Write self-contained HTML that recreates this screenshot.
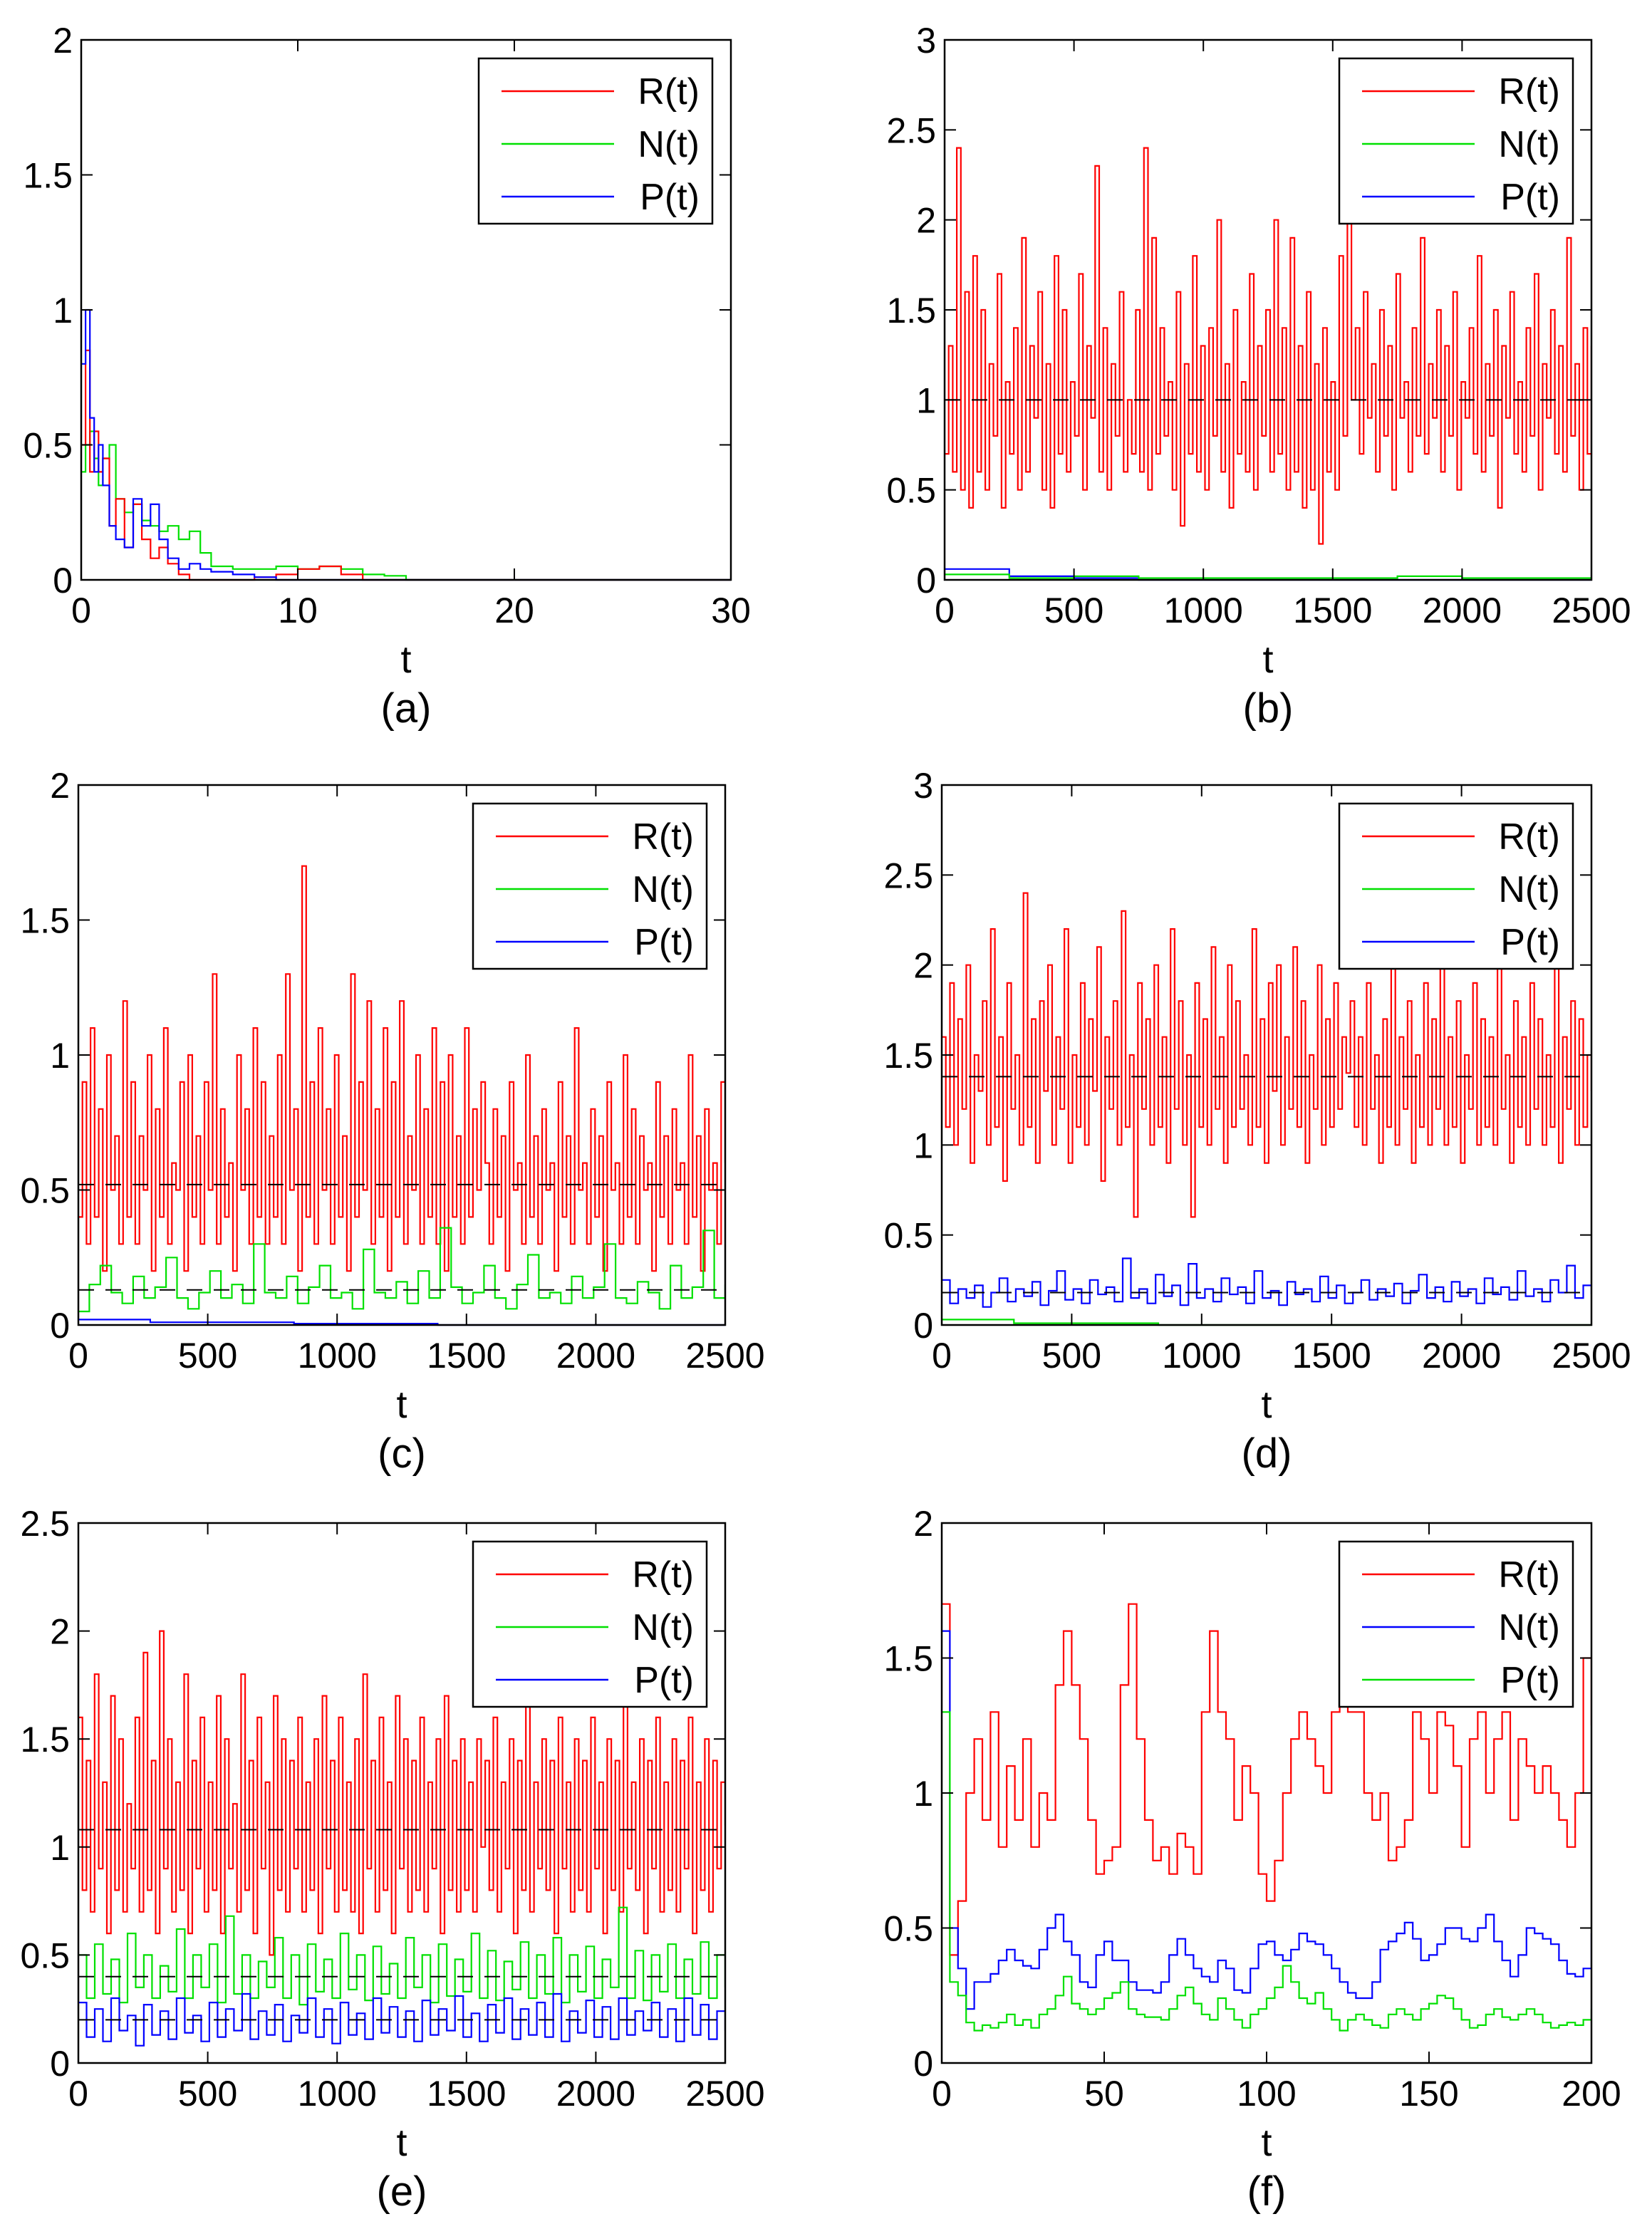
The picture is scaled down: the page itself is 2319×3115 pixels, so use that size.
<!DOCTYPE html>
<html><head><meta charset="utf-8"><style>
html,body{margin:0;padding:0;background:#fff;}
svg{display:block;font-family:"Liberation Sans",Arial,sans-serif;}
</style></head><body>
<svg id="fig" width="2319" height="3115" viewBox="0 0 2319 3115" xmlns="http://www.w3.org/2000/svg"></svg>
<script>
// ---------- data ----------
const aT = [0,0.2,0.4,0.6,0.8,1,1.3,1.6,2,2.4,2.8,3.2,3.6,4,4.5,5,5.5,6,7,8,9,10,11,12,13,14,15,30];
const aR = [0.5,0.85,0.4,0.55,0.4,0.45,0.2,0.3,0.12,0.28,0.15,0.08,0.12,0.06,0.02,0,0,0,0,0.01,0.02,0.04,0.05,0.02,0,0,0,0];
const aN = [0.4,0.5,0.55,0.45,0.35,0.45,0.5,0.3,0.25,0.28,0.22,0.2,0.18,0.2,0.15,0.18,0.1,0.05,0.04,0.04,0.05,0.04,0.05,0.04,0.02,0.015,0,0];
const aP = [0.8,1.0,0.6,0.4,0.5,0.35,0.2,0.15,0.12,0.3,0.2,0.28,0.15,0.08,0.04,0.06,0.04,0.03,0.02,0.01,0,0,0,0,0,0,0,0];

const bR = [0.7,1.3,0.6,2.4,0.5,1.6,0.4,1.8,0.6,1.5,0.5,1.2,0.8,1.7,0.4,1.1,0.7,1.4,0.5,1.9,0.6,1.3,0.9,1.6,0.5,1.2,0.4,1.8,0.7,1.5,0.6,1.1,0.8,1.7,0.5,1.3,0.9,2.3,0.6,1.4,0.5,1.2,0.8,1.6,0.6,1.0,0.7,1.5,0.6,2.4,0.5,1.9,0.7,1.4,0.8,1.1,0.5,1.6,0.3,1.2,0.7,1.8,0.6,1.3,0.5,1.4,0.8,2.0,0.6,1.2,0.4,1.5,0.7,1.1,0.6,1.7,0.5,1.3,0.8,1.5,0.6,2.0,0.7,1.4,0.5,1.9,0.6,1.3,0.4,1.6,0.5,1.2,0.2,1.4,0.6,1.1,0.5,1.8,0.8,2.2,
  1.0,1.4,0.7,1.6,0.9,1.2,0.6,1.5,0.8,1.3,0.5,1.7,0.9,1.1,0.6,1.4,0.8,1.9,0.7,1.2,0.9,1.5,0.6,1.3,0.8,1.6,0.5,1.1,0.9,1.4,0.7,1.8,0.6,1.2,0.8,1.5,0.4,1.3,0.9,1.6,0.7,1.1,0.6,1.4,0.8,1.7,0.5,1.2,0.9,1.5,0.7,1.3,0.6,1.9,0.8,1.2,0.5,1.4,0.7,1.3];
const bN = [0.03,0.01,0.02,0.01,0.01,0.01,0.01,0.02,0.01,0.01,0.01];
const bP = [0.06,0.02,0.01,0,0,0,0,0,0,0,0];
const bEq = [1.0];

const cR = [0.4,0.9,0.3,1.1,0.4,0.8,0.2,1.0,0.5,0.7,0.3,1.2,0.4,0.9,0.3,0.7,0.5,1.0,0.2,0.8,0.4,1.1,0.3,0.6,0.5,0.9,0.2,1.0,0.4,0.7,0.3,0.9,0.5,1.3,0.3,0.8,0.4,0.6,0.2,1.0,0.5,0.8,0.3,1.1,0.4,0.9,0.3,0.7,0.4,1.0,0.3,1.3,0.5,0.8,0.2,1.7,0.4,0.9,0.3,1.1,0.5,0.8,0.3,1.0,0.4,0.7,0.2,1.3,0.4,0.9,0.5,1.2,0.3,0.8,0.4,1.1,0.2,0.9,0.4,1.2,0.3,0.7,0.5,1.0,0.3,0.8,0.4,1.1,0.3,0.9,0.2,1.0,0.4,0.7,0.3,1.1,0.4,0.8,0.5,0.9,
  0.6,0.3,0.8,0.4,0.7,0.2,0.9,0.5,0.6,0.3,1.0,0.4,0.7,0.3,0.8,0.5,0.6,0.2,0.9,0.4,0.7,0.3,1.1,0.5,0.6,0.3,0.8,0.4,0.7,0.2,0.9,0.5,0.6,0.3,1.0,0.4,0.8,0.3,0.7,0.5,0.6,0.2,0.9,0.4,0.7,0.3,0.8,0.5,0.6,0.3,1.0,0.4,0.7,0.2,0.8,0.5,0.6,0.3,0.9,0.6];
const cN = [0.05,0.15,0.22,0.12,0.08,0.18,0.1,0.14,0.25,0.1,0.06,0.12,0.2,0.1,0.15,0.08,0.3,0.12,0.1,0.18,0.08,0.14,0.22,0.1,0.12,0.06,0.28,0.12,0.1,0.16,0.08,0.2,0.1,0.36,0.14,0.08,0.12,0.22,0.1,0.06,0.15,0.26,0.1,0.12,0.08,0.18,0.1,0.14,0.3,0.1,0.08,0.16,0.12,0.06,0.22,0.1,0.14,0.35,0.1,0.15];
const cP = [0.02,0.01,0.01,0.005,0.005,0,0,0,0,0];
const cEq = [0.52,0.13];

const dR = [1.6,1.1,1.9,1.0,1.7,1.2,2.0,0.9,1.5,1.3,1.8,1.0,2.2,1.1,1.6,0.8,1.9,1.2,1.5,1.0,2.4,1.1,1.7,0.9,1.8,1.3,2.0,1.0,1.6,1.2,2.2,0.9,1.5,1.1,1.9,1.0,1.7,1.3,2.1,0.8,1.6,1.2,1.8,1.0,2.3,1.1,1.5,0.6,1.9,1.2,1.7,1.0,2.0,1.1,1.6,0.9,2.2,1.2,1.8,1.0,1.5,0.6,1.9,1.1,1.7,1.0,2.1,1.2,1.6,0.9,2.0,1.1,1.8,1.2,1.5,1.0,2.2,1.1,1.7,0.9,1.9,1.3,2.0,1.0,1.6,1.2,2.1,1.1,1.8,0.9,1.5,1.2,2.0,1.0,1.7,1.1,1.9,1.2,1.6,1.4,
  1.8,1.1,1.6,1.0,1.9,1.2,1.5,0.9,1.7,1.1,2.0,1.0,1.6,1.2,1.8,0.9,1.5,1.1,1.9,1.0,1.7,1.2,2.1,1.0,1.6,1.1,1.8,0.9,1.5,1.2,1.9,1.0,1.7,1.1,1.6,1.0,2.0,1.2,1.5,0.9,1.8,1.1,1.6,1.0,1.9,1.2,1.7,1.0,1.5,1.1,2.0,0.9,1.6,1.2,1.8,1.0,1.7,1.1,1.5,1.3];
const dN = [0.03,0.01,0.01,0,0,0,0,0,0,0];
const dP = [0.25,0.12,0.2,0.15,0.22,0.1,0.18,0.26,0.13,0.2,0.16,0.24,0.11,0.19,0.3,0.14,0.2,0.12,0.25,0.17,0.21,0.13,0.37,0.15,0.2,0.12,0.28,0.16,0.22,0.11,0.34,0.15,0.2,0.13,0.26,0.17,0.21,0.12,0.3,0.15,0.19,0.11,0.24,0.17,0.2,0.13,0.27,0.15,0.22,0.12,0.18,0.25,0.14,0.2,0.16,0.23,0.12,0.19,0.28,0.15,0.21,0.13,0.24,0.16,0.2,0.12,0.26,0.17,0.21,0.14,0.3,0.16,0.2,0.13,0.25,0.18,0.33,0.15,0.22,0.17];
const dEq = [1.38,0.18];

const eR = [1.6,0.8,1.4,0.7,1.8,0.9,1.3,0.6,1.7,0.8,1.5,0.7,1.2,0.9,1.6,0.7,1.9,0.8,1.4,0.6,2.0,0.9,1.5,0.7,1.3,0.8,1.8,0.6,1.4,0.9,1.6,0.7,1.3,0.8,1.7,0.6,1.5,0.9,1.2,0.7,1.8,0.8,1.4,0.6,1.6,0.9,1.3,0.5,1.7,0.8,1.5,0.7,1.4,0.9,1.6,0.7,1.3,0.8,1.5,0.6,1.7,0.9,1.4,0.7,1.6,0.8,1.3,0.7,1.5,0.6,1.8,0.9,1.4,0.7,1.6,0.8,1.3,0.6,1.7,0.9,1.5,0.7,1.4,0.8,1.6,0.7,1.3,0.9,1.5,0.6,1.7,0.8,1.4,0.7,1.5,0.8,1.3,0.7,1.5,1.0,
  1.4,0.8,1.6,0.7,1.3,0.9,1.5,0.6,1.4,0.8,1.7,0.7,1.3,0.9,1.5,0.8,1.4,0.6,1.6,0.9,1.3,0.7,1.5,0.8,1.4,0.7,1.6,0.9,1.3,0.6,1.5,0.8,1.4,0.7,1.7,0.9,1.3,0.8,1.5,0.6,1.4,0.9,1.6,0.7,1.3,0.8,1.5,0.7,1.4,0.9,1.6,0.6,1.3,0.8,1.5,0.7,1.4,0.9,1.3,1.1];
const eN = [0.5,0.3,0.55,0.32,0.48,0.28,0.6,0.35,0.5,0.3,0.45,0.33,0.62,0.3,0.5,0.35,0.55,0.28,0.68,0.32,0.5,0.3,0.47,0.35,0.58,0.3,0.5,0.27,0.55,0.33,0.48,0.3,0.6,0.34,0.5,0.29,0.54,0.32,0.46,0.3,0.58,0.35,0.5,0.28,0.55,0.31,0.48,0.33,0.6,0.3,0.52,0.29,0.47,0.34,0.56,0.3,0.5,0.32,0.58,0.28,0.5,0.33,0.54,0.3,0.48,0.35,0.72,0.3,0.52,0.29,0.5,0.33,0.55,0.3,0.48,0.32,0.56,0.3,0.5,0.35];
const eP = [0.28,0.12,0.25,0.1,0.3,0.15,0.22,0.08,0.27,0.13,0.24,0.11,0.3,0.14,0.22,0.1,0.28,0.12,0.25,0.15,0.32,0.11,0.24,0.13,0.27,0.1,0.22,0.14,0.3,0.12,0.25,0.09,0.28,0.13,0.23,0.11,0.3,0.14,0.26,0.12,0.24,0.1,0.29,0.13,0.25,0.15,0.31,0.12,0.23,0.1,0.27,0.14,0.3,0.11,0.25,0.13,0.28,0.12,0.32,0.1,0.24,0.14,0.29,0.12,0.26,0.11,0.3,0.13,0.24,0.15,0.28,0.12,0.25,0.1,0.3,0.13,0.27,0.11,0.24,0.15];
const eEq = [1.08,0.4,0.2];

const fR = [1.7,0.4,0.6,1.0,1.2,0.9,1.3,0.8,1.1,0.9,1.2,0.8,1.0,0.9,1.4,1.6,1.4,1.2,0.9,0.7,0.75,0.8,1.4,1.7,1.2,0.9,0.75,0.8,0.7,0.85,0.8,0.7,1.3,1.6,1.3,1.2,0.9,1.1,1.0,0.7,0.6,0.75,1.0,1.2,1.3,1.2,1.1,1.0,1.3,1.6,1.3,1.3,1.0,0.9,1.0,0.75,0.8,0.9,1.3,1.2,1.0,1.3,1.25,1.1,0.8,1.2,1.3,1.0,1.2,1.3,0.9,1.2,1.1,1.0,1.1,1.0,0.9,0.8,1.0,1.5,1.25];
const fN = [1.6,0.5,0.35,0.2,0.3,0.3,0.33,0.38,0.42,0.38,0.36,0.35,0.42,0.5,0.55,0.45,0.4,0.3,0.28,0.4,0.45,0.38,0.38,0.3,0.27,0.27,0.26,0.3,0.4,0.46,0.4,0.35,0.32,0.3,0.38,0.35,0.27,0.26,0.35,0.44,0.45,0.4,0.38,0.42,0.48,0.45,0.44,0.4,0.35,0.3,0.26,0.24,0.24,0.3,0.42,0.45,0.48,0.52,0.46,0.38,0.4,0.44,0.5,0.5,0.46,0.45,0.5,0.55,0.45,0.38,0.32,0.4,0.5,0.48,0.46,0.44,0.38,0.33,0.32,0.35,0.48];
const fP = [1.3,0.3,0.25,0.15,0.12,0.14,0.13,0.15,0.18,0.14,0.16,0.13,0.18,0.2,0.25,0.32,0.22,0.2,0.18,0.2,0.24,0.26,0.3,0.2,0.18,0.17,0.17,0.16,0.2,0.25,0.28,0.22,0.18,0.16,0.24,0.2,0.16,0.13,0.18,0.2,0.24,0.28,0.36,0.3,0.24,0.22,0.26,0.2,0.16,0.12,0.16,0.18,0.16,0.14,0.13,0.18,0.2,0.18,0.16,0.2,0.22,0.25,0.24,0.2,0.16,0.13,0.14,0.18,0.2,0.17,0.16,0.18,0.2,0.18,0.15,0.13,0.14,0.15,0.14,0.16,0.2];

const xTicksA = [0,10,20,30];
const xTicksLong = [0,500,1000,1500,2000,2500];
const xTicksF = [0,50,100,150,200];
const yTicks2 = [0,0.5,1,1.5,2];
const yTicks3 = [0,0.5,1,1.5,2,2.5,3];
const yTicks25 = [0,0.5,1,1.5,2,2.5];

// ---------- drawing ----------
const NS = "http://www.w3.org/2000/svg";
const svg = document.getElementById('fig');
const RED="#ff0000", GRN="#00e000", BLU="#0000ff";
function mk(tag, attrs, parent){
  const e = document.createElementNS(NS, tag);
  for (const k in attrs) e.setAttribute(k, attrs[k]);
  (parent||svg).appendChild(e);
  return e;
}
function fmt(v){ return String(v); }

function panel(p){
  const g = mk('g', {});
  
  
  const L=p.x0, R=p.x1, T=p.y0, B=p.y1;
  const sx = v => L + (v - p.xmin)/(p.xmax - p.xmin)*(R-L);
  const sy = v => B - (v - 0)/(p.ymax - 0)*(B-T);
  const clipId = 'clip'+p.id;
  const cp = mk('clipPath', {id: clipId}, g);
  mk('rect', {x:L, y:T-2, width:R-L, height:B-T+4}, cp);
  const plot = mk('g', {'clip-path':'url(#'+clipId+')'}, g);
  p.series.forEach(s => {
    const n = s.v.length;
    let d = '';
    for (let i=0;i<n;i++){
      const t = s.t ? s.t[i] : p.xmin + i*(p.xmax-p.xmin)/(n-1);
      const x = sx(t).toFixed(1), y = sy(s.v[i]).toFixed(1);
      if (i===0) d += 'M'+x+','+y;
      else d += 'H'+x+'V'+y;
    }
    if (!s.t) d += 'H'+sx(p.xmax).toFixed(1);
    const path = mk('path', {d:d, fill:'none', stroke:s.c, 'stroke-width':2.2}, plot);
    
    
  });
  (p.eq||[]).forEach((v,i) => {
    const ln = mk('line', {x1:L, x2:R, y1:sy(v), y2:sy(v), stroke:'#000', 'stroke-width':2, 'stroke-dasharray':'22,16'}, plot);
    
    
  });
  const box = mk('rect', {x:L, y:T, width:R-L, height:B-T, fill:'none', stroke:'#000', 'stroke-width':2.5}, g);
  
  
  const tl = 16;
  p.xt.forEach(v => {
    const x = sx(v);
    mk('line', {x1:x, x2:x, y1:B, y2:B-tl, stroke:'#000','stroke-width':2}, g);
    mk('line', {x1:x, x2:x, y1:T, y2:T+tl, stroke:'#000','stroke-width':2}, g);
    const t = mk('text', {x:x, y:B+60, 'font-size':50, 'text-anchor':'middle', fill:'#000'}, g);
    t.textContent = fmt(v);
    
    
  });
  p.yt.forEach(v => {
    const y = sy(v);
    mk('line', {x1:L, x2:L+tl, y1:y, y2:y, stroke:'#000','stroke-width':2}, g);
    mk('line', {x1:R, x2:R-tl, y1:y, y2:y, stroke:'#000','stroke-width':2}, g);
    const t = mk('text', {x:L-12, y:y+18, 'font-size':50, 'text-anchor':'end', fill:'#000'}, g);
    t.textContent = fmt(v);
    
    
  });
  const xl = mk('text', {x:(L+R)/2, y:B+130, 'font-size':54, 'text-anchor':'middle', fill:'#000'}, g);
  xl.textContent = 't';
  
  
  const cap = mk('text', {x:(L+R)/2, y:B+200, 'font-size':58, 'text-anchor':'middle', fill:'#000'}, g);
  cap.textContent = '(' + p.id + ')';
  
  
  const lx0 = R - 354, ly0 = T + 26, lw = 328, lh = 232;
  const lg = mk('g', {}, g);
  
  
  mk('rect', {x:lx0, y:ly0, width:lw, height:lh, fill:'#fff', stroke:'#000','stroke-width':2.5}, lg);
  p.legend.forEach((e,i) => {
    const y = ly0 + 46 + i*74;
    const ln = mk('line', {x1:lx0+32, x2:lx0+190, y1:y, y2:y, stroke:e.c, 'stroke-width':2.5}, lg);
    
    
    const t = mk('text', {x:lx0+310, y:y+18, 'font-size':52, 'text-anchor':'end', fill:'#000'}, lg);
    t.textContent = e.label;
    
    
  });
}

const stdLegend = [{label:'R(t)',c:RED},{label:'N(t)',c:GRN},{label:'P(t)',c:BLU}];
panel({id:'a', x0:114, x1:1026, y0:56, y1:814, xmin:0, xmax:30, ymax:2, xt:xTicksA, yt:yTicks2, legend:stdLegend,
  series:[{name:'N',v:aN,t:aT,c:GRN},{name:'R',v:aR,t:aT,c:RED},{name:'P',v:aP,t:aT,c:BLU}]});
panel({id:'b', x0:1326, x1:2234, y0:56, y1:814, xmin:0, xmax:2500, ymax:3, xt:xTicksLong, yt:yTicks3, legend:stdLegend, eq:bEq,
  series:[{name:'R',v:bR,c:RED},{name:'P',v:bP,c:BLU},{name:'N',v:bN,c:GRN}]});
panel({id:'c', x0:110, x1:1018, y0:1102, y1:1860, xmin:0, xmax:2500, ymax:2, xt:xTicksLong, yt:yTicks2, legend:stdLegend, eq:cEq,
  series:[{name:'R',v:cR,c:RED},{name:'N',v:cN,c:GRN},{name:'P',v:cP,c:BLU}]});
panel({id:'d', x0:1322, x1:2234, y0:1102, y1:1860, xmin:0, xmax:2500, ymax:3, xt:xTicksLong, yt:yTicks3, legend:stdLegend, eq:dEq,
  series:[{name:'R',v:dR,c:RED},{name:'N',v:dN,c:GRN},{name:'P',v:dP,c:BLU}]});
panel({id:'e', x0:110, x1:1018, y0:2138, y1:2896, xmin:0, xmax:2500, ymax:2.5, xt:xTicksLong, yt:yTicks25, legend:stdLegend, eq:eEq,
  series:[{name:'R',v:eR,c:RED},{name:'N',v:eN,c:GRN},{name:'P',v:eP,c:BLU}]});
panel({id:'f', x0:1322, x1:2234, y0:2138, y1:2896, xmin:0, xmax:200, ymax:2, xt:xTicksF, yt:yTicks2,
  legend:[{label:'R(t)',c:RED},{label:'N(t)',c:BLU},{label:'P(t)',c:GRN}],
  series:[{name:'R',v:fR,c:RED},{name:'N',v:fN,c:BLU},{name:'P',v:fP,c:GRN}]});
</script>
</body></html>
